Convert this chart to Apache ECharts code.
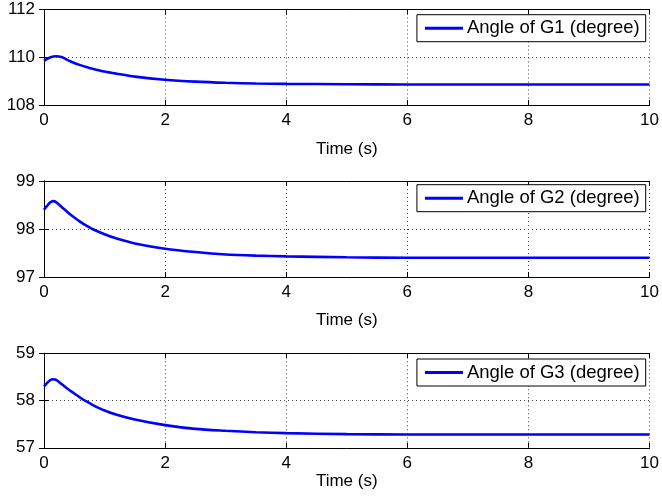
<!DOCTYPE html>
<html>
<head>
<meta charset="utf-8">
<script src="https://cdn.jsdelivr.net/npm/echarts@6/dist/echarts.min.js"></script>
<style>
  html, body { margin: 0; padding: 0; background: #fff; }
  #chart { width: 662px; height: 498px; }
</style>
</head>
<body>
<div id="chart"></div>
<script>
// Sample times (s)
const timeS = [0, 0.05, 0.1, 0.15, 0.2, 0.3, 0.4, 0.5, 0.6, 0.7, 0.8, 1.0, 1.2, 1.5, 2.0, 2.5, 3.0, 3.5, 4.0, 5.0, 6.0, 7.0, 8.0, 9.0, 10.0];

// Rotor angles (degree)
const angleG1 = [109.85, 109.93, 109.99, 110.03, 110.04, 110.00, 109.87, 109.76, 109.67, 109.59, 109.52, 109.40, 109.31, 109.19, 109.06, 108.98, 108.93, 108.90, 108.885, 108.87, 108.86, 108.86, 108.86, 108.86, 108.86];
const angleG2 = [98.40, 98.48, 98.55, 98.58, 98.56, 98.45, 98.34, 98.24, 98.15, 98.07, 98.00, 97.89, 97.80, 97.70, 97.59, 97.52, 97.47, 97.445, 97.43, 97.41, 97.40, 97.40, 97.40, 97.40, 97.40];
const angleG3 = [58.30, 58.37, 58.43, 58.45, 58.44, 58.34, 58.24, 58.15, 58.06, 57.98, 57.91, 57.79, 57.70, 57.60, 57.48, 57.40, 57.36, 57.33, 57.31, 57.29, 57.28, 57.28, 57.28, 57.28, 57.28];

const seriesNames = ['Angle of G1 (degree)', 'Angle of G2 (degree)', 'Angle of G3 (degree)'];
const yRanges = [[108, 112, 2], [97, 99, 1], [57, 59, 1]];
const xTicks = { min: 0, max: 10, interval: 2 };
const xTitle = 'Time (s)';

const FONT = 'Liberation Sans, Arial, sans-serif';
const grids = [
  { left: 44, right: 11.3, top: 9.5, height: 95.5 },
  { left: 44, right: 11.3, top: 181, height: 96 },
  { left: 44, right: 11.3, top: 353.3, height: 94.5 }
];
const nameGaps = [36, 35, 25];
const legendTops = [14.7, 184.7, 359];
const allValues = [angleG1, angleG2, angleG3];

const gridLine = { show: true, lineStyle: { color: '#444', type: [1, 3], width: 1 } };
const blackLine = { show: true, lineStyle: { color: '#000', width: 1 } };
const tickIn = { show: true, inside: true, length: 5, lineStyle: { color: '#000', width: 1 } };

const xAxes = [], yAxes = [], series = [], legends = [];
grids.forEach((g, i) => {
  // bottom axis with labels
  xAxes.push({
    type: 'value', gridIndex: i, position: 'bottom', ...xTicks,
    axisLine: blackLine, axisTick: tickIn, splitLine: gridLine,
    axisLabel: { color: '#000', fontFamily: FONT, fontSize: 17, margin: 7 },
    name: xTitle, nameLocation: 'middle', nameGap: nameGaps[i],
    nameTextStyle: { color: '#000', fontFamily: FONT, fontSize: 17 }
  });
  // top edge of the box
  xAxes.push({
    type: 'value', gridIndex: i, position: 'top', ...xTicks,
    axisLine: blackLine, axisTick: tickIn, axisLabel: { show: false }, splitLine: { show: false }
  });
  const [ymin, ymax, yint] = yRanges[i];
  yAxes.push({
    type: 'value', gridIndex: i, position: 'left', min: ymin, max: ymax, interval: yint,
    axisLine: blackLine, axisTick: tickIn, splitLine: gridLine,
    axisLabel: { color: '#000', fontFamily: FONT, fontSize: 17, margin: 9 }
  });
  yAxes.push({
    type: 'value', gridIndex: i, position: 'right', min: ymin, max: ymax, interval: yint,
    axisLine: blackLine, axisTick: tickIn, axisLabel: { show: false }, splitLine: { show: false }
  });
  series.push({
    name: seriesNames[i], type: 'line', xAxisIndex: i * 2, yAxisIndex: i * 2,
    data: timeS.map((t, k) => [t, allValues[i][k]]),
    smooth: 0.3, showSymbol: false, symbol: 'none',
    lineStyle: { color: '#0000ff', width: 2.6 }, itemStyle: { color: '#0000ff' }
  });
  legends.push({
    data: [seriesNames[i]], right: 16.3, top: legendTops[i],
    orient: 'vertical', backgroundColor: '#fff', borderColor: '#000', borderWidth: 1,
    padding: [4, 6, 4, 8], itemWidth: 38, itemHeight: 3, itemGap: 0,
    icon: 'rect', textStyle: { color: '#000', fontFamily: FONT, fontSize: 18.5, padding: [0, 0, 0, -1] }
  });
});

const chart = echarts.init(document.getElementById('chart'), null, { renderer: 'canvas' });
chart.setOption({
  animation: false,
  backgroundColor: '#fff',
  grid: grids,
  xAxis: xAxes,
  yAxis: yAxes,
  legend: legends,
  series: series
});
</script>
</body>
</html>
